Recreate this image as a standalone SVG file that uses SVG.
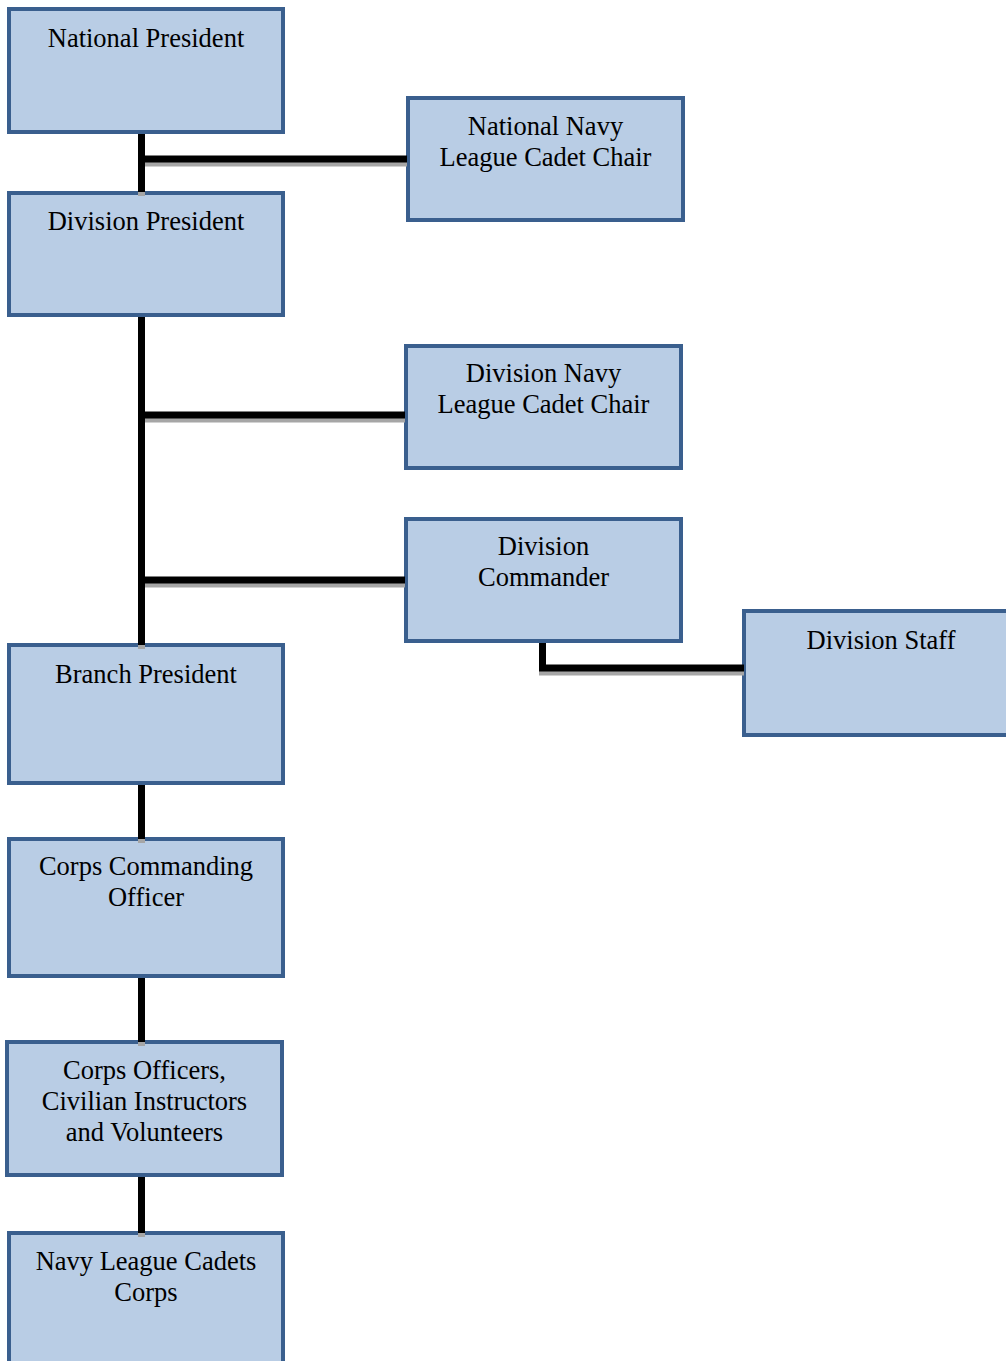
<svg xmlns="http://www.w3.org/2000/svg" xmlns:xlink="http://www.w3.org/1999/xlink" width="1006" height="1361" viewBox="0 0 1006 1361">
<style>
.box{fill:#b9cde5;stroke:#3a5f8e;stroke-width:4}
.t{font-family:"Liberation Serif","Times New Roman",serif;font-size:26.5px;fill:#000;text-anchor:middle}
.ln{fill:none;stroke:#000;stroke-width:7}
.sh{fill:none;stroke:#a6a6a6;stroke-width:7}
</style>
<defs>
<path id="conn" d="M141.5 134 V192 M141.5 159 H407 M141.5 317 V645 M141.5 415 H405 M141.5 580 H405 M542.5 643 V668 H744 M141.5 785 V839 M141.5 978 V1042 M141.5 1177 V1233"/>
</defs>
<rect width="1006" height="1361" fill="#fff"/>
<g id="n1"><rect class="box" x="9" y="9" width="274" height="123"/><text class="t" x="146" y="47">National President</text></g>
<g id="n2"><rect class="box" x="408" y="98" width="275" height="122"/><text class="t" x="545.5" y="135">National Navy</text><text class="t" x="545.5" y="166">League Cadet Chair</text></g>
<g id="n3"><rect class="box" x="9" y="193" width="274" height="122"/><text class="t" x="146" y="230">Division President</text></g>
<g id="n4"><rect class="box" x="406" y="346" width="275" height="122"/><text class="t" x="543.5" y="382">Division Navy</text><text class="t" x="543.5" y="413">League Cadet Chair</text></g>
<g id="n5"><rect class="box" x="406" y="519" width="275" height="122"/><text class="t" x="543.5" y="555">Division</text><text class="t" x="543.5" y="586">Commander</text></g>
<g id="n6"><rect class="box" x="744" y="611" width="280" height="124"/><text class="t" x="881" y="649">Division Staff</text></g>
<g id="n7"><rect class="box" x="9" y="645" width="274" height="138"/><text class="t" x="146" y="683">Branch President</text></g>
<g id="n8"><rect class="box" x="9" y="839" width="274" height="137"/><text class="t" x="146" y="875">Corps Commanding</text><text class="t" x="146" y="906">Officer</text></g>
<g id="n9"><rect class="box" x="7" y="1042" width="275" height="133"/><text class="t" x="144.5" y="1079">Corps Officers,</text><text class="t" x="144.5" y="1110">Civilian Instructors</text><text class="t" x="144.5" y="1141">and Volunteers</text></g>
<g id="n10"><rect class="box" x="9" y="1233" width="274" height="140"/><text class="t" x="146" y="1270">Navy League Cadets</text><text class="t" x="146" y="1301">Corps</text></g>
<g id="connectors">
<use xlink:href="#conn" class="sh" transform="translate(0,4)"/>
<use xlink:href="#conn" class="ln"/>
</g>
</svg>
